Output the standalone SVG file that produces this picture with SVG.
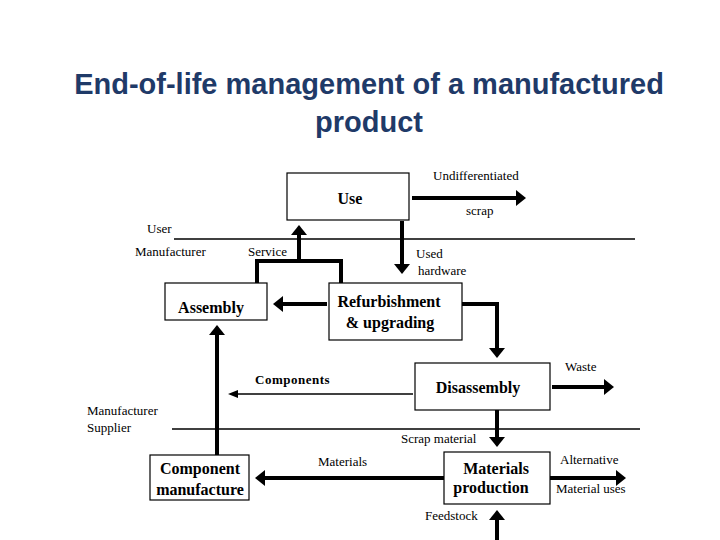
<svg xmlns="http://www.w3.org/2000/svg" width="720" height="540" viewBox="0 0 720 540">
<style>
.t{font-family:"Liberation Serif",serif;font-size:13px;fill:#000}
.b{font-family:"Liberation Serif",serif;font-size:16px;font-weight:bold;fill:#000;text-anchor:middle}
.box{fill:#fff;stroke:#000;stroke-width:1.2}
.thick{stroke:#000;stroke-width:4;fill:none}
.thin{stroke:#000;stroke-width:1.3;fill:none}
</style>
<defs>
<marker id="ah" markerWidth="4" markerHeight="4" refX="1" refY="2" orient="auto" markerUnits="strokeWidth"><path d="M0,0 L2.5,2 L0,4 Z" fill="#000"/></marker>
<marker id="as" markerWidth="10" markerHeight="8" refX="2" refY="4" orient="auto" markerUnits="userSpaceOnUse"><path d="M0,0 L10,4 L0,8 Z" fill="#000"/></marker>
</defs>
<rect width="720" height="540" fill="#fff"/>
<g id="title" font-family="Liberation Sans,Arial,sans-serif" font-size="29" font-weight="bold" fill="#1f3a68" text-anchor="middle">
<text x="369" y="94">End-of-life management of a manufactured</text>
<text x="369" y="132">product</text>
</g>
<g id="connectors">
<line class="thin" x1="174" y1="239" x2="635" y2="239"/>
<line class="thin" x1="172" y1="429" x2="640" y2="429"/>
<line class="thick" x1="412" y1="198" x2="520" y2="198" marker-end="url(#ah)"/>
<line class="thick" x1="299" y1="261" x2="299" y2="231" marker-end="url(#ah)"/>
<polyline class="thick" points="257,283 257,261 341,261 341,283"/>
<line class="thick" x1="402" y1="221" x2="402" y2="268" marker-end="url(#ah)"/>
<line class="thick" x1="327" y1="304" x2="279" y2="304" marker-end="url(#ah)"/>
<polyline class="thick" points="462,304 497,304 497,352" marker-end="url(#ah)"/>
<line class="thick" x1="217" y1="455" x2="217" y2="331" marker-end="url(#ah)"/>
<line class="thin" x1="413" y1="394" x2="236" y2="394" marker-end="url(#as)"/>
<line class="thick" x1="552" y1="387" x2="608" y2="387" marker-end="url(#ah)"/>
<line class="thick" x1="497" y1="410" x2="497" y2="441" marker-end="url(#ah)"/>
<line class="thick" x1="444" y1="478" x2="261" y2="478" marker-end="url(#ah)"/>
<line class="thick" x1="550" y1="478" x2="620" y2="478" marker-end="url(#ah)"/>
<line class="thick" x1="497" y1="540" x2="497" y2="516" marker-end="url(#ah)"/>
</g>
<g id="use"><rect class="box" x="287" y="173" width="122" height="47"/><text class="b" x="350" y="204">Use</text></g>
<g id="assembly"><rect class="box" x="165" y="283" width="102" height="37"/><text class="b" x="211" y="313">Assembly</text></g>
<g id="refurb"><rect class="box" x="329" y="283" width="133" height="57"/><text class="b" x="389" y="307">Refurbishment</text><text class="b" x="390" y="328">&amp; upgrading</text></g>
<g id="disassembly"><rect class="box" x="415" y="363" width="135" height="47"/><text class="b" x="478" y="393">Disassembly</text></g>
<g id="compman"><rect class="box" x="150" y="455" width="99" height="45"/><text class="b" x="200" y="474" font-size="15">Component</text><text class="b" x="200" y="495" font-size="15">manufacture</text></g>
<g id="matprod"><rect class="box" x="444" y="452" width="106" height="52"/><text class="b" x="496" y="474">Materials</text><text class="b" x="491" y="493">production</text></g>
<g id="labels">
<text class="t" x="433" y="180">Undifferentiated</text>
<text class="t" x="466" y="215">scrap</text>
<text class="t" x="147" y="233">User</text>
<text class="t" x="135" y="256">Manufacturer</text>
<text class="t" x="248" y="256">Service</text>
<text class="t" x="416" y="258">Used</text>
<text class="t" x="418" y="275">hardware</text>
<text class="t" x="255" y="384" font-weight="bold" letter-spacing="0.5">Components</text>
<text class="t" x="565" y="371">Waste</text>
<text class="t" x="87" y="415">Manufacturer</text>
<text class="t" x="87" y="432">Supplier</text>
<text class="t" x="401" y="443">Scrap material</text>
<text class="t" x="318" y="466">Materials</text>
<text class="t" x="560" y="464">Alternative</text>
<text class="t" x="556" y="493">Material uses</text>
<text class="t" x="425" y="520">Feedstock</text>
</g>
</svg>
